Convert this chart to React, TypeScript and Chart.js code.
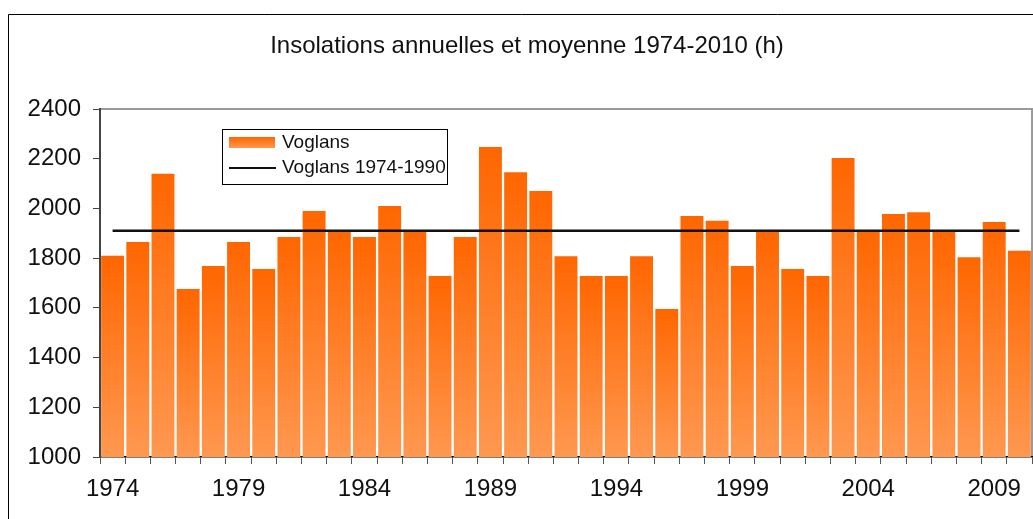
import React, { useEffect, useRef } from 'react';
import { Chart, registerables } from 'chart.js';

Chart.register(...registerables);

const TITLE = 'Insolations annuelles et moyenne 1974-2010 (h)';

const years = [
  '1974', '1975', '1976', '1977', '1978', '1979', '1980', '1981', '1982', '1983',
  '1984', '1985', '1986', '1987', '1988', '1989', '1990', '1991', '1992', '1993',
  '1994', '1995', '1996', '1997', '1998', '1999', '2000', '2001', '2002', '2003',
  '2004', '2005', '2006', '2007', '2008', '2009', '2010',
];

const voglans = [
  1810, 1865, 2140, 1676, 1768, 1865, 1756, 1885, 1990, 1910,
  1885, 2010, 1910, 1728, 1885, 2247, 2146, 2070, 1808, 1728,
  1728, 1808, 1595, 1970, 1950, 1768, 1910, 1756, 1728, 2203,
  1910, 1978, 1985, 1910, 1804, 1945, 1830,
];

const MEAN_1974_1990 = 1910;
const meanLine = years.map(() => MEAN_1974_1990);

const yTicks = [1000, 1200, 1400, 1600, 1800, 2000, 2200, 2400];
const xLabelYears = ['1974', '1979', '1984', '1989', '1994', '1999', '2004', '2009'];

const LEGEND_BAR = 'Voglans';
const LEGEND_LINE = 'Voglans 1974-1990';

const FONT = '"Liberation Sans", Arial, sans-serif';
const ORANGE_TOP = '#FF6600';
const ORANGE_BOTTOM = '#FF9850';

const decorPlugin = {
  id: 'decor',
  beforeDraw(chart: any) {
    const { ctx, chartArea } = chart;
    ctx.save();
    ctx.fillStyle = '#ffffff';
    ctx.fillRect(0, 0, chart.width, chart.height);
    // outer frame
    ctx.strokeStyle = '#000000';
    ctx.lineWidth = 1;
    ctx.beginPath();
    ctx.moveTo(8.5, chart.height + 5);
    ctx.lineTo(8.5, 14.5);
    ctx.lineTo(chart.width + 5, 14.5);
    ctx.stroke();
    // title
    ctx.fillStyle = '#111111';
    ctx.font = `24px ${FONT}`;
    ctx.textAlign = 'center';
    ctx.textBaseline = 'alphabetic';
    ctx.fillText(TITLE, 527, 53);
    // plot area top/right border
    ctx.strokeStyle = '#9a9a9a';
    ctx.lineWidth = 2;
    ctx.beginPath();
    ctx.moveTo(chartArea.left, chartArea.top);
    ctx.lineTo(chartArea.right, chartArea.top);
    ctx.lineTo(chartArea.right, chartArea.bottom);
    ctx.stroke();
    ctx.restore();
  },
  afterDraw(chart: any) {
    const { ctx } = chart;
    ctx.save();
    // legend box
    const bx = 222.5, by = 129.5, bw = 225, bh = 55;
    ctx.fillStyle = '#ffffff';
    ctx.fillRect(bx, by, bw, bh);
    ctx.strokeStyle = '#000000';
    ctx.lineWidth = 1;
    ctx.strokeRect(bx, by, bw, bh);
    // bar swatch
    const g = ctx.createLinearGradient(0, 137, 0, 148);
    g.addColorStop(0, ORANGE_TOP);
    g.addColorStop(1, ORANGE_BOTTOM);
    ctx.fillStyle = g;
    ctx.fillRect(229, 137, 46, 11);
    // line swatch
    ctx.strokeStyle = '#111111';
    ctx.lineWidth = 2;
    ctx.beginPath();
    ctx.moveTo(229, 168);
    ctx.lineTo(276, 168);
    ctx.stroke();
    ctx.fillStyle = '#111111';
    ctx.font = `19px ${FONT}`;
    ctx.textAlign = 'left';
    ctx.textBaseline = 'alphabetic';
    ctx.fillText(LEGEND_BAR, 282, 148);
    ctx.fillText(LEGEND_LINE, 282, 173);
    ctx.restore();
  },
};

export default function App() {
  const canvasRef = useRef<HTMLCanvasElement | null>(null);

  useEffect(() => {
    document.body.style.margin = '0';
    document.body.style.overflow = 'hidden';
    const canvas = canvasRef.current;
    if (!canvas) return;

    const chart = new Chart(canvas, {
      type: 'bar',
      data: {
        labels: years,
        datasets: [
          {
            type: 'line' as const,
            label: LEGEND_LINE,
            data: meanLine,
            borderColor: '#111111',
            borderWidth: 2.5,
            pointRadius: 0,
            fill: false,
            order: 0,
          },
          {
            type: 'bar' as const,
            label: LEGEND_BAR,
            data: voglans,
            order: 1,
            barPercentage: 0.91,
            categoryPercentage: 1,
            backgroundColor: (c: any) => {
              const ch = c.chart;
              const area = ch.chartArea;
              if (!area || c.type !== 'data' || !ch.scales.y) return ORANGE_TOP;
              const ys = ch.scales.y;
              const top = ys.getPixelForValue(c.raw);
              const bot = ys.getPixelForValue(yTicks[0]);
              if (!isFinite(top) || !isFinite(bot) || bot <= top) return ORANGE_TOP;
              const grad = ch.ctx.createLinearGradient(0, top, 0, bot);
              grad.addColorStop(0, ORANGE_TOP);
              grad.addColorStop(1, ORANGE_BOTTOM);
              return grad;
            },
          },
        ],
      },
      options: {
        responsive: false,
        animation: false,
        layout: { padding: { top: 109, right: 1, left: 0, bottom: 0 } },
        plugins: {
          legend: { display: false },
          title: { display: false },
          tooltip: { enabled: false },
        },
        scales: {
          x: {
            offset: true,
            afterFit: (s: any) => { s.height = 62; },
            grid: {
              offset: true,
              drawOnChartArea: false,
              drawTicks: true,
              tickLength: 7,
              color: '#555555',
              lineWidth: 1,
            },
            border: { display: true, color: '#000000', width: 1.5 },
            ticks: {
              autoSkip: false,
              maxRotation: 0,
              padding: 11,
              color: '#111111',
              font: { family: FONT, size: 24 },
              callback: function (this: any, _v: any, i: number) {
                const lab = years[i];
                return xLabelYears.includes(lab) ? lab : '';
              },
            },
          },
          y: {
            min: yTicks[0],
            max: yTicks[yTicks.length - 1],
            afterFit: (s: any) => { s.width = 100; },
            afterBuildTicks: (s: any) => { s.ticks = yTicks.map((v) => ({ value: v })); },
            grid: {
              drawOnChartArea: false,
              drawTicks: true,
              tickLength: 7,
              color: '#444444',
              lineWidth: 1,
            },
            border: { display: true, color: '#444444', width: 2 },
            ticks: {
              padding: 12,
              color: '#111111',
              font: { family: FONT, size: 24 },
              callback: (v: any) => String(v),
            },
          },
        },
      },
      plugins: [decorPlugin],
    });

    return () => chart.destroy();
  }, []);

  return <canvas ref={canvasRef} width={1033} height={519} style={{ display: 'block' }} />;
}
